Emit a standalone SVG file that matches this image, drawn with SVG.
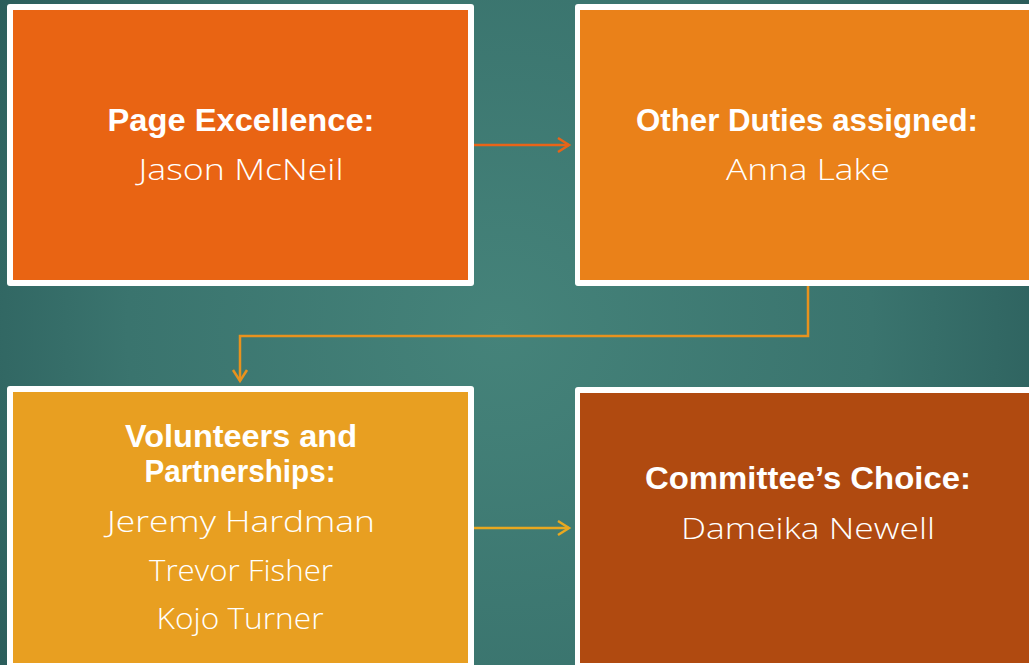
<svg xmlns="http://www.w3.org/2000/svg" width="1029" height="665" viewBox="0 0 1029 665">
<style>
.frame{fill:#ffffff}
.hd{font-family:"Liberation Sans","DejaVu Sans",sans-serif;font-weight:bold;font-size:31.5px;fill:#ffffff;text-anchor:middle}
.nm{font-family:"Open Sans","Liberation Sans",sans-serif;font-weight:300;font-size:30px;fill:#ffffff;text-anchor:middle}
.conn{fill:none;stroke-width:2.5}
</style>
<defs>
<radialGradient id="bg" cx="500" cy="330" r="620" gradientUnits="userSpaceOnUse">
<stop offset="0" stop-color="#45837A"/>
<stop offset="0.6" stop-color="#3A746E"/>
<stop offset="1" stop-color="#2A5C5A"/>
</radialGradient>
<marker id="a1" markerWidth="16" markerHeight="18" refX="13" refY="9" orient="auto" markerUnits="userSpaceOnUse">
<path d="M2,2 L13,9 L2,16" fill="none" stroke="#E86418" stroke-width="2.5"/>
</marker>
<marker id="a2" markerWidth="16" markerHeight="18" refX="13" refY="9" orient="auto" markerUnits="userSpaceOnUse">
<path d="M2,2 L13,9 L2,16" fill="none" stroke="#E8921E" stroke-width="2.5"/>
</marker>
<marker id="a3" markerWidth="16" markerHeight="18" refX="13" refY="9" orient="auto" markerUnits="userSpaceOnUse">
<path d="M2,2 L13,9 L2,16" fill="none" stroke="#E8A820" stroke-width="2.5"/>
</marker>
</defs>
<rect x="0" y="0" width="1029" height="665" fill="url(#bg)"/>
<g id="connectors">
<path class="conn" d="M474,145 L569,145" stroke="#E86418" marker-end="url(#a1)"/>
<path class="conn" d="M808,286 L808,336 L240,336 L240,381" stroke="#E8921E" marker-end="url(#a2)"/>
<path class="conn" d="M474,528 L569,528" stroke="#E8A820" marker-end="url(#a3)"/>
</g>
<g id="node-page-excellence">
<rect class="frame" x="7" y="4" width="467" height="282" rx="3"/>
<rect x="13" y="10" width="455" height="270" fill="#E96413"/>
<text class="hd" x="241" y="131" textLength="267" lengthAdjust="spacingAndGlyphs">Page Excellence:</text>
<text class="nm" x="241" y="180" textLength="205" lengthAdjust="spacingAndGlyphs">Jason McNeil</text>
</g>
<g id="node-other-duties">
<rect class="frame" x="575" y="4" width="470" height="282" rx="3"/>
<rect x="580" y="10" width="460" height="270" fill="#EA8119"/>
<text class="hd" x="807" y="131" textLength="342" lengthAdjust="spacingAndGlyphs">Other Duties assigned:</text>
<text class="nm" x="808" y="180" textLength="164" lengthAdjust="spacingAndGlyphs">Anna Lake</text>
</g>
<g id="node-volunteers">
<rect class="frame" x="7" y="386" width="467" height="290" rx="3"/>
<rect x="13" y="392" width="455" height="271" fill="#E89F21"/>
<text class="hd" x="241" y="447" textLength="232" lengthAdjust="spacingAndGlyphs">Volunteers and</text>
<text class="hd" x="240" y="482" textLength="191" lengthAdjust="spacingAndGlyphs">Partnerships:</text>
<text class="nm" x="241" y="532" textLength="268" lengthAdjust="spacingAndGlyphs">Jeremy Hardman</text>
<text class="nm" x="241" y="581" textLength="184" lengthAdjust="spacingAndGlyphs">Trevor Fisher</text>
<text class="nm" x="240" y="629" textLength="167" lengthAdjust="spacingAndGlyphs">Kojo Turner</text>
</g>
<g id="node-committee">
<rect class="frame" x="575" y="387" width="470" height="290" rx="3"/>
<rect x="580" y="393" width="460" height="270" fill="#B04A10"/>
<text class="hd" x="808" y="489" textLength="326" lengthAdjust="spacingAndGlyphs">Committee’s Choice:</text>
<text class="nm" x="808" y="539" textLength="254" lengthAdjust="spacingAndGlyphs">Dameika Newell</text>
</g>
</svg>
